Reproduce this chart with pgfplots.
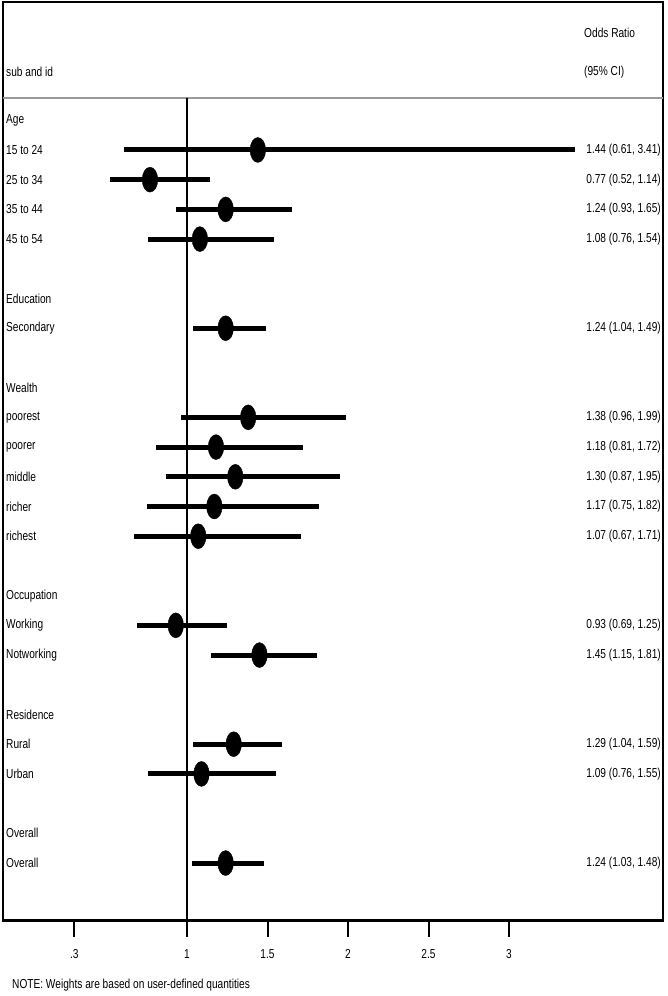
\documentclass[border=0pt]{standalone}
\usepackage{fontspec}
\setmainfont{Liberation Sans}[FakeStretch=0.78]
\usepackage{pgfplots}
\pgfplotsset{compat=1.18}
\usepackage{pgfplotstable}

\pgfplotstableread{
row est lo hi
1 1.44 0.61 3.41
2 0.77 0.52 1.14
3 1.24 0.93 1.65
4 1.08 0.76 1.54
7 1.24 1.04 1.49
10 1.38 0.96 1.99
11 1.18 0.81 1.72
12 1.30 0.87 1.95
13 1.17 0.75 1.82
14 1.07 0.67 1.71
17 0.93 0.69 1.25
18 1.45 1.15 1.81
21 1.29 1.04 1.59
22 1.09 0.76 1.55
25 1.24 1.03 1.48
}\forestdata

\newcommand{\lab}[2]{\node[anchor=west, inner sep=0pt] at (axis cs:-0.1242,-#1) {#2};}
\newcommand{\est}[2]{\node[anchor=east, inner sep=0pt] at (axis cs:3.944,-#1) {#2};}

\begin{document}
\begin{tikzpicture}[font=\fontsize{13}{15}\selectfont]
\begin{axis}[
  scale only axis, width=660pt, height=919pt,
  at={(0pt,0pt)}, anchor=south west,
  xmin=-0.1429, xmax=3.9565, ymin=-26.95, ymax=3.98,
  axis line style={line width=2pt},
  xtick=\empty, ytick=\empty,
  clip=false,
]
\draw[black!40, line width=1.5pt] (axis cs:-0.1429,0.75) -- (axis cs:3.9565,0.75);
\draw[line width=1.4pt] (axis cs:1,0.75) -- (axis cs:1,-26.95);
\pgfplotsinvokeforeach{0.3,1,1.5,2,2.5,3}{
  \draw[line width=2pt] (axis cs:#1,-26.95) -- ++(0pt,-16pt);
}

\addplot[only marks, mark=*, mark size=7.8pt,
  mark options={yscale=1.6, fill=black, draw=black},
  error bars/.cd, x dir=both, x explicit, error mark=none,
  error bar style={line width=5pt, black}]
  table[x=est, y expr=-\thisrow{row},
    x error plus expr=\thisrow{hi}-\thisrow{est},
    x error minus expr=\thisrow{est}-\thisrow{lo}] {\forestdata};

\node[anchor=west, inner sep=0pt] at (axis cs:-0.1242,1.63) {sub and id};
\node[anchor=west, inner sep=0pt] at (axis cs:3.466,2.94) {Odds Ratio};
\node[anchor=west, inner sep=0pt] at (axis cs:3.466,1.63) {(95\% CI)};

\lab{0}{Age}
\lab{1}{15 to 24}
\lab{2}{25 to 34}
\lab{3}{35 to 44}
\lab{4}{45 to 54}
\lab{6}{Education}
\lab{7}{Secondary}
\lab{9}{Wealth}
\lab{10}{poorest}
\lab{11}{poorer}
\lab{12}{middle}
\lab{13}{richer}
\lab{14}{richest}
\lab{16}{Occupation}
\lab{17}{Working}
\lab{18}{Notworking}
\lab{20}{Residence}
\lab{21}{Rural}
\lab{22}{Urban}
\lab{24}{Overall}
\lab{25}{Overall}

\est{1}{1.44 (0.61, 3.41)}
\est{2}{0.77 (0.52, 1.14)}
\est{3}{1.24 (0.93, 1.65)}
\est{4}{1.08 (0.76, 1.54)}
\est{7}{1.24 (1.04, 1.49)}
\est{10}{1.38 (0.96, 1.99)}
\est{11}{1.18 (0.81, 1.72)}
\est{12}{1.30 (0.87, 1.95)}
\est{13}{1.17 (0.75, 1.82)}
\est{14}{1.07 (0.67, 1.71)}
\est{17}{0.93 (0.69, 1.25)}
\est{18}{1.45 (1.15, 1.81)}
\est{21}{1.29 (1.04, 1.59)}
\est{22}{1.09 (0.76, 1.55)}
\est{25}{1.24 (1.03, 1.48)}
\end{axis}
\begin{axis}[
  scale only axis, width=660pt, height=16pt,
  at={(0pt,-16pt)}, anchor=south west,
  xmin=-0.1429, xmax=3.9565, ymin=0, ymax=1,
  axis line style={draw=none},
  xtick={0.3,1,1.5,2,2.5,3}, xticklabels={.3,1,1.5,2,2.5,3},
  ytick=\empty, xtick pos=bottom, major tick length=0pt,
  tick label style={font=\fontsize{13}{15}\selectfont},
  xticklabel style={yshift=-9pt},
]
\end{axis}
\draw[line width=3pt] (0pt,0pt) -- (660pt,0pt);
\node[anchor=west, inner sep=0pt] at (9pt,-64pt) {NOTE: Weights are based on user-defined quantities};
\path[use as bounding box] (-3pt,-75pt) rectangle (665pt,921pt);
\end{tikzpicture}
\end{document}
